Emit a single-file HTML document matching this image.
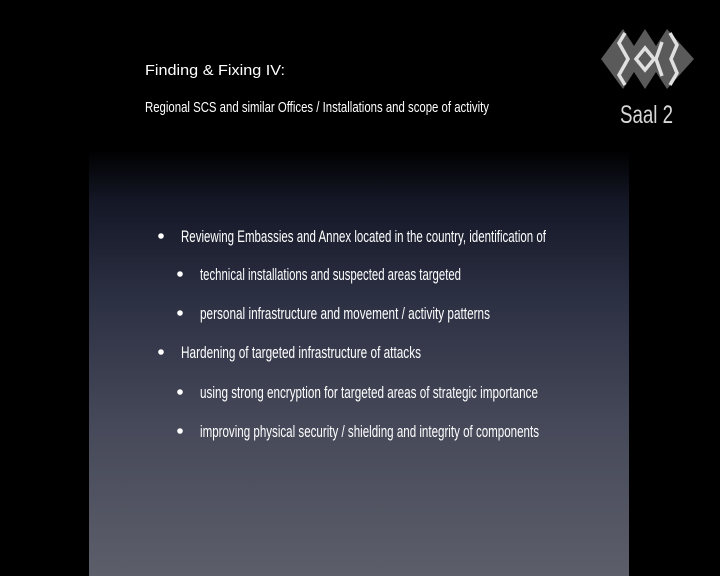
<!DOCTYPE html>
<html><head><meta charset="utf-8"><style>
html,body{margin:0;padding:0;background:#000;}
svg{display:block;}
text{font-family:"Liberation Sans Narrow","Liberation Sans",sans-serif;fill:#fff;}
</style></head><body>
<svg width="720" height="576" viewBox="0 0 720 576">
<defs>
<linearGradient id="g" x1="0" y1="0" x2="0" y2="1">
<stop offset="0" stop-color="#000"/>
<stop offset="0.12" stop-color="#141726"/>
<stop offset="0.35" stop-color="#2c3043"/>
<stop offset="0.65" stop-color="#464959"/>
<stop offset="1" stop-color="#5c5e6a"/>
</linearGradient>
</defs>
<rect width="720" height="576" fill="#000"/>
<rect x="89" y="150" width="540" height="426" fill="url(#g)"/>
<text x="145" y="75" font-size="15" textLength="140" lengthAdjust="spacingAndGlyphs">Finding &amp; Fixing IV:</text>
<text x="145" y="112" font-size="15" textLength="344" lengthAdjust="spacingAndGlyphs">Regional SCS and similar Offices / Installations and scope of activity</text>
<g font-size="17">
<circle cx="161" cy="236" r="2.8" fill="#fff"/>
<text x="181" y="242" textLength="365" lengthAdjust="spacingAndGlyphs">Reviewing Embassies and Annex located in the country, identification of</text>
<circle cx="180" cy="274" r="2.8" fill="#fff"/>
<text x="200" y="280" textLength="261" lengthAdjust="spacingAndGlyphs">technical installations and suspected areas targeted</text>
<circle cx="180" cy="313" r="2.8" fill="#fff"/>
<text x="200" y="319" textLength="290" lengthAdjust="spacingAndGlyphs">personal infrastructure and movement / activity patterns</text>
<circle cx="161" cy="352" r="2.8" fill="#fff"/>
<text x="181" y="358" textLength="240" lengthAdjust="spacingAndGlyphs">Hardening of targeted infrastructure of attacks</text>
<circle cx="180" cy="392" r="2.8" fill="#fff"/>
<text x="200" y="398" textLength="338" lengthAdjust="spacingAndGlyphs">using strong encryption for targeted areas of strategic importance</text>
<circle cx="180" cy="431" r="2.8" fill="#fff"/>
<text x="200" y="437" textLength="339" lengthAdjust="spacingAndGlyphs">improving physical security / shielding and integrity of components</text>
</g>
<g>
<polygon points="601,59 623,29 634,46 645,29 656,46 667,29 694,59 667,89 656,72 645,89 634,72 623,89" fill="#5a5a5a"/>
<polyline points="625,33 619,43 628,59 619,75 625,85" fill="none" stroke="#e0e0e0" stroke-width="3.5"/>
<polygon points="645,48 654,59 645,70 636,59" fill="none" stroke="#e0e0e0" stroke-width="3.5"/>
<polyline points="662,42 656,59 662,76" fill="none" stroke="#e0e0e0" stroke-width="3.5"/>
<polyline points="670,33 677,45 671,59 677,73 670,85" fill="none" stroke="#e0e0e0" stroke-width="3.5"/>
<text x="620" y="123" font-size="25" textLength="53" lengthAdjust="spacingAndGlyphs" style="fill:#d8d8d8">Saal 2</text>
</g>
</svg>
</body></html>
